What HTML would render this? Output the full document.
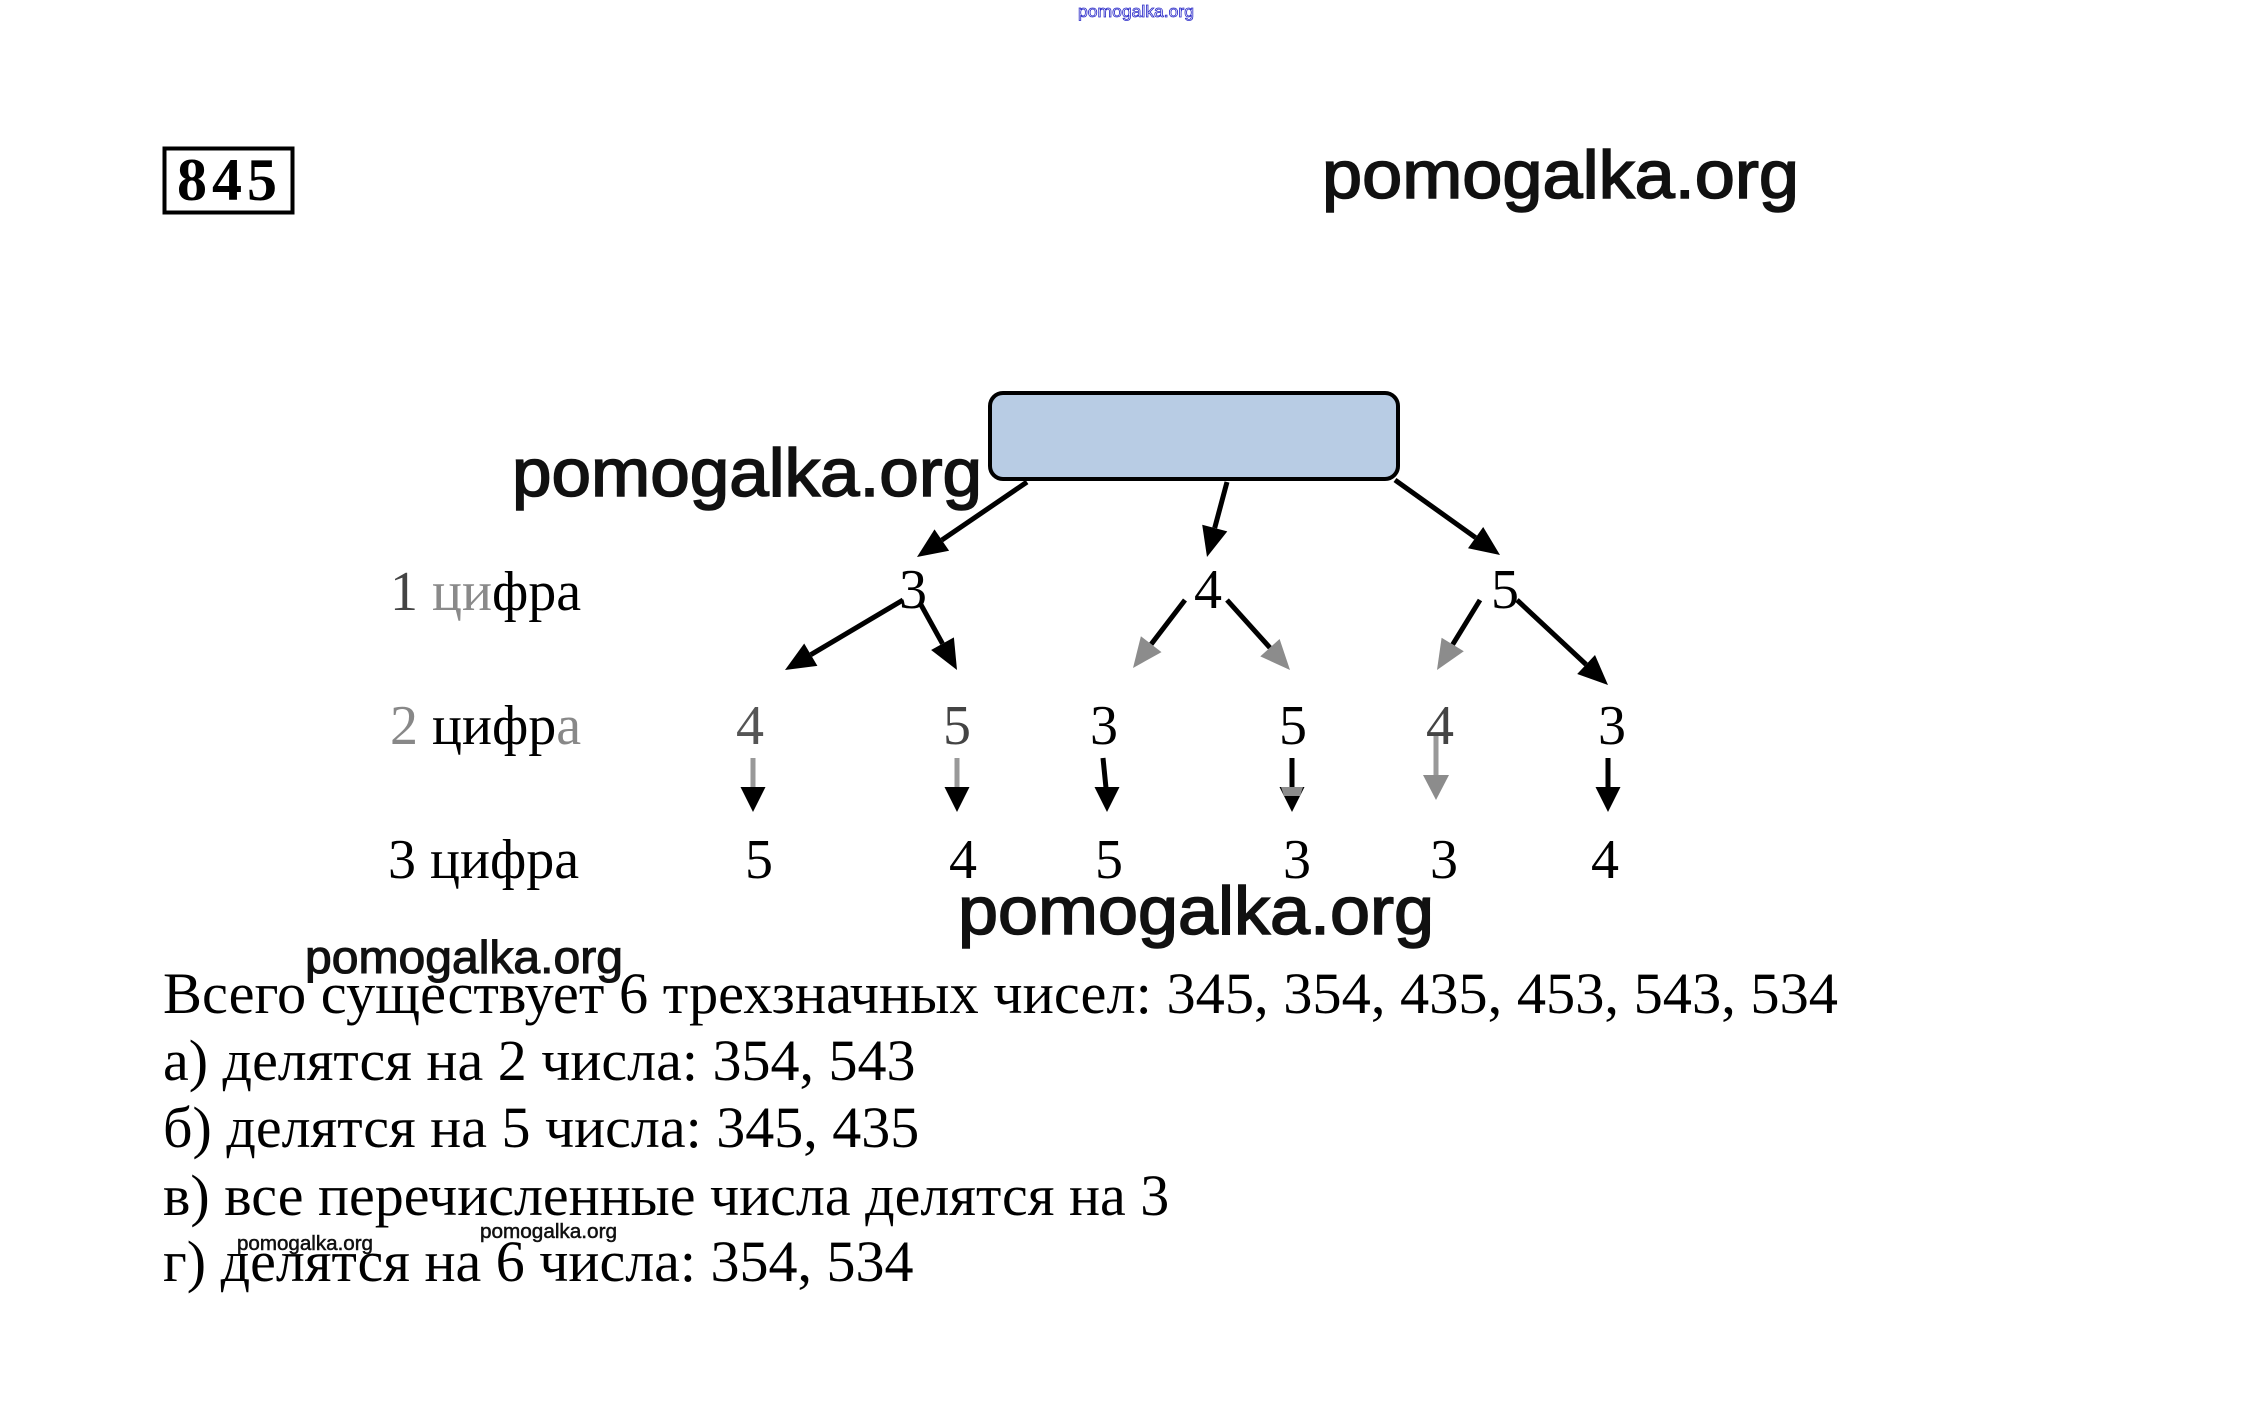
<!DOCTYPE html>
<html>
<head>
<meta charset="utf-8">
<style>
  html, body { margin:0; padding:0; background:#fff; }
  body { width:2265px; height:1421px; overflow:hidden; }
  svg { display:block; }
  .serif { font-family: "Liberation Serif", "DejaVu Serif", serif; }
  .wm { font-family: "Liberation Sans", "DejaVu Sans", sans-serif; font-weight:normal; fill:#111; stroke:#111; }
</style>
</head>
<body>
<svg width="2265" height="1421" viewBox="0 0 2265 1421" xmlns="http://www.w3.org/2000/svg">
  <rect x="0" y="0" width="2265" height="1421" fill="#fff"/>

  <!-- tiny blue watermark at top -->
  <text x="1078" y="17" font-family="Liberation Sans, sans-serif" font-size="17" fill="#ffffff" stroke="#2a2ac8" stroke-width="0.8" textLength="116" lengthAdjust="spacingAndGlyphs">pomogalka.org</text>

  <!-- 845 box -->
  <rect x="164.5" y="148.5" width="128" height="64" fill="none" stroke="#000" stroke-width="4"/>
  <text class="serif" x="177" y="200" font-size="60" font-weight="bold" fill="#000" textLength="100" lengthAdjust="spacing">845</text>

  <!-- top right watermark -->
  <text class="wm" x="1322" y="198" font-size="68" stroke-width="1.6" textLength="477" lengthAdjust="spacingAndGlyphs">pomogalka.org</text>

  <!-- blue root box -->
  <rect x="990" y="393" width="408" height="86" rx="13" ry="13" fill="#b8cce4" stroke="#000" stroke-width="4"/>

  <!-- middle-left watermark -->
  <text class="wm" x="512" y="496" font-size="68" stroke-width="1.6" textLength="470" lengthAdjust="spacingAndGlyphs">pomogalka.org</text>

  <!-- arrows from root -->
  <g stroke="#000" stroke-width="5" fill="none" stroke-linecap="butt">
    <line x1="1027" y1="482" x2="941.8" y2="540.1"/>
    <line x1="1227" y1="482" x2="1214.7" y2="528"/>
    <line x1="1395" y1="480" x2="1475.6" y2="537.6"/>
    <!-- from 3 -->
    <line x1="903" y1="600" x2="810.8" y2="654.7"/>
    <line x1="920" y1="603" x2="942.5" y2="643.7"/>
    <!-- from 4 -->
    <line x1="1185" y1="600" x2="1151.2" y2="644.2"/>
    <line x1="1227" y1="600" x2="1269.9" y2="647.7"/>
    <!-- from 5 -->
    <line x1="1480" y1="600" x2="1452.7" y2="644.5"/>
    <line x1="1517" y1="600" x2="1586.1" y2="664.5"/>
  </g>
  <g fill="#000">
    <polygon points="917,557 934.5,529.4 949.1,550.8"/>
    <polygon points="1207,557 1202.2,524.7 1227.3,531.4"/>
    <polygon points="1500,555 1468,548.2 1483.2,527"/>
    <polygon points="785,670 804.2,643.5 817.4,665.9"/>
    <polygon points="957,670 931.1,650 953.9,637.4"/>
    <polygon points="1608,685 1577.2,674 1595,655"/>
  </g>
  <g fill="#8c8c8c">
    <polygon points="1133,668 1140.9,636.3 1161.5,652.1"/>
    <polygon points="1290,670 1260.3,656.4 1279.6,639"/>
    <polygon points="1437,670 1441.6,637.7 1463.8,651.3"/>
  </g>

  <!-- vertical arrows -->
  <g stroke-width="5">
    <line x1="753" y1="758" x2="753" y2="788" stroke="#999"/>
    <line x1="957" y1="758" x2="957" y2="788" stroke="#999"/>
    <line x1="1103" y1="758" x2="1106" y2="788" stroke="#000"/>
    <line x1="1292" y1="758" x2="1292" y2="788" stroke="#000"/>
    <line x1="1436" y1="733" x2="1436" y2="776" stroke="#999"/>
    <line x1="1608" y1="758" x2="1608" y2="788" stroke="#000"/>
  </g>
  <g>
    <polygon points="740.5,787 765.5,787 753,812" fill="#000"/>
    <polygon points="944.5,787 969.5,787 957,812" fill="#000"/>
    <polygon points="1094.5,787 1119.5,787 1107,812" fill="#000"/>
    <polygon points="1279.5,787 1304.5,787 1292,812" fill="#000"/>
    <polygon points="1281,787 1303,787 1300,796 1284,796" fill="#8c8c8c"/>
    <polygon points="1423,775 1449,775 1436,800" fill="#8c8c8c"/>
    <polygon points="1595.5,787 1620.5,787 1608,812" fill="#000"/>
  </g>

  <!-- row labels -->
  <g class="serif" font-size="56">
    <text x="390" y="610"><tspan fill="#444">1 </tspan><tspan fill="#8a8a8a">ци</tspan><tspan fill="#000">фра</tspan></text>
    <text x="390" y="744"><tspan fill="#888">2</tspan><tspan fill="#000"> цифр</tspan><tspan fill="#888">а</tspan></text>
    <text x="388" y="878" fill="#000">3 цифра</text>
  </g>

  <!-- digits -->
  <g class="serif" font-size="56" text-anchor="middle" fill="#000">
    <text x="913" y="608">3</text>
    <text x="1208" y="608">4</text>
    <text x="1505" y="608">5</text>

    <text x="750" y="744" fill="#555">4</text>
    <text x="957" y="744" fill="#444">5</text>
    <text x="1104" y="744">3</text>
    <text x="1293" y="744">5</text>
    <text x="1440" y="744" fill="#444">4</text>
    <text x="1612" y="744">3</text>

    <text x="759" y="878">5</text>
    <text x="963" y="878">4</text>
    <text x="1109" y="878">5</text>
    <text x="1297" y="878">3</text>
    <text x="1444" y="878">3</text>
    <text x="1605" y="878">4</text>
  </g>

  <!-- lower watermark -->
  <text class="wm" x="958" y="934" font-size="68" stroke-width="1.6" textLength="476" lengthAdjust="spacingAndGlyphs">pomogalka.org</text>

  <!-- body text -->
  <g class="serif" font-size="58" fill="#000">
    <text x="163" y="1013" textLength="1675" lengthAdjust="spacingAndGlyphs">Всего существует 6 трехзначных чисел: 345, 354, 435, 453, 543, 534</text>
    <text x="163" y="1080">а) делятся на 2 числа: 354, 543</text>
    <text x="163" y="1147">б) делятся на 5 числа: 345, 435</text>
    <text x="163" y="1215">в) все перечисленные числа делятся на 3</text>
    <text x="163" y="1281">г) делятся на 6 числа: 354, 534</text>
  </g>

  <!-- medium and small watermarks -->
  <text class="wm" x="305" y="973" font-size="46" stroke-width="1.1" textLength="318" lengthAdjust="spacingAndGlyphs">pomogalka.org</text>
  <text class="wm" x="237" y="1250" font-size="20" stroke-width="0.5" textLength="136" lengthAdjust="spacingAndGlyphs">pomogalka.org</text>
  <text class="wm" x="480" y="1238" font-size="20" stroke-width="0.5" textLength="137" lengthAdjust="spacingAndGlyphs">pomogalka.org</text>
</svg>
</body>
</html>
